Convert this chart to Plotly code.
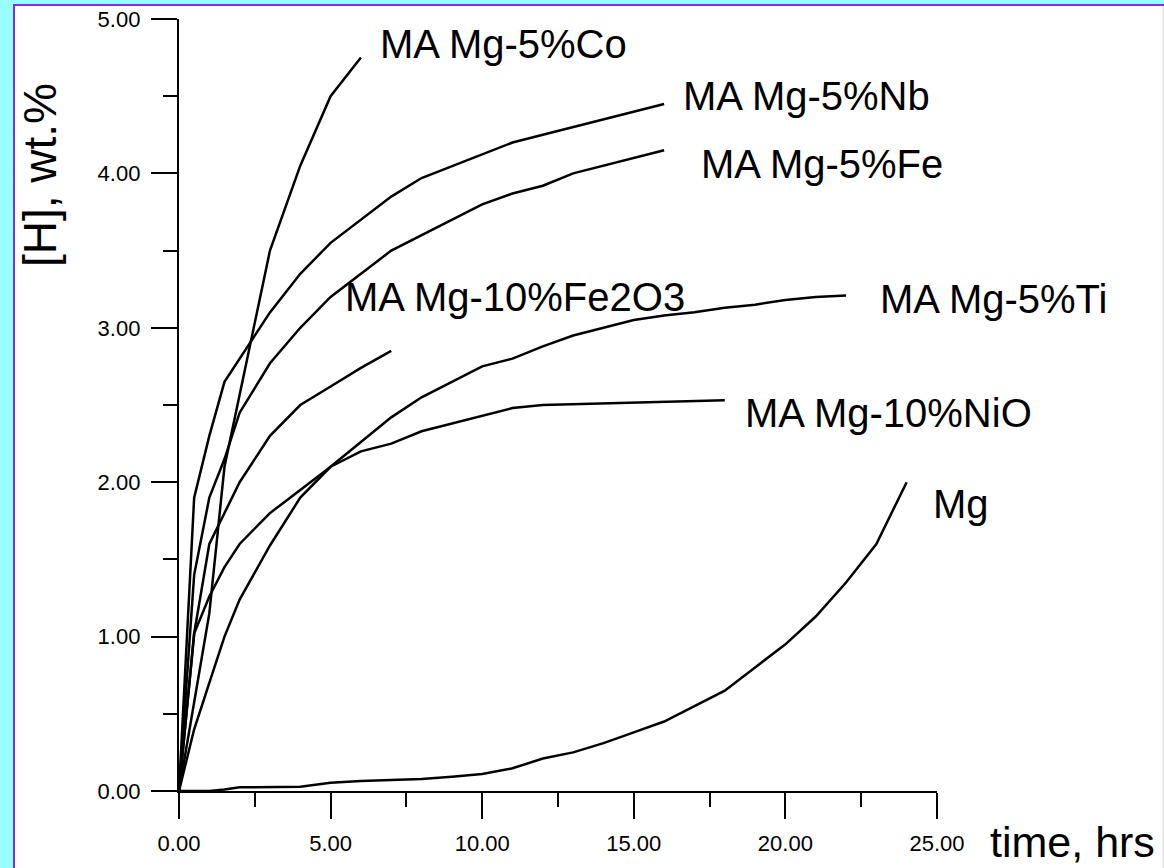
import plotly.graph_objects as go

# Hydrogen uptake [H] (wt.%) versus time (hours) for milled Mg alloys
t_co = [0, 1, 1.5, 3, 4, 5, 6]
h_co = [0, 1.15, 2.1, 3.5, 4.05, 4.5, 4.75]

t_nb = [0, 0.5, 1, 1.5, 3, 4, 5, 7, 8, 10, 11, 12, 14, 16]
h_nb = [0, 1.9, 2.3, 2.65, 3.1, 3.35, 3.55, 3.85, 3.97, 4.12, 4.2, 4.25, 4.35, 4.45]

t_fe = [0, 0.5, 1, 1.5, 2, 3, 4, 5, 7, 8, 9, 10, 11, 12, 13, 14, 15, 16]
h_fe = [0, 1.4, 1.9, 2.15, 2.45, 2.77, 3.0, 3.2, 3.5, 3.6, 3.7, 3.8, 3.87, 3.92, 4.0, 4.05, 4.1, 4.15]

t_fe2o3 = [0, 0.5, 1, 2, 3, 4, 5, 6, 7]
h_fe2o3 = [0, 1.02, 1.6, 2.0, 2.3, 2.5, 2.62, 2.74, 2.85]

t_ti = [0, 0.5, 1, 1.5, 2, 3, 4, 5, 6, 7, 8, 10, 11, 12, 13, 14, 15, 16, 17, 18, 19, 20, 21, 22]
h_ti = [0, 0.4, 0.7, 1.0, 1.24, 1.59, 1.9, 2.1, 2.26, 2.42, 2.55, 2.75, 2.8, 2.88, 2.95, 3.0, 3.05,
        3.08, 3.1, 3.13, 3.15, 3.18, 3.2, 3.21]

t_nio = [0, 0.5, 1, 1.5, 2, 3, 4, 5, 6, 7, 8, 9, 10, 11, 12, 18]
h_nio = [0, 1.02, 1.26, 1.45, 1.6, 1.8, 1.95, 2.1, 2.2, 2.25, 2.33, 2.38, 2.43, 2.48, 2.5, 2.53]

t_mg = [0, 1, 1.5, 2, 4, 5, 6, 8, 9, 10, 11, 12, 13, 14, 15, 16, 17, 18, 19, 20, 21, 22, 23, 24]
h_mg = [0, 0, 0.01, 0.024, 0.028, 0.054, 0.065, 0.078, 0.093, 0.11, 0.147, 0.21, 0.25, 0.31, 0.38,
        0.45, 0.55, 0.65, 0.8, 0.95, 1.13, 1.35, 1.6, 2.0]

series = [
    ("MA Mg-5%Co", t_co, h_co),
    ("MA Mg-5%Nb", t_nb, h_nb),
    ("MA Mg-5%Fe", t_fe, h_fe),
    ("MA Mg-10%Fe2O3", t_fe2o3, h_fe2o3),
    ("MA Mg-5%Ti", t_ti, h_ti),
    ("MA Mg-10%NiO", t_nio, h_nio),
    ("Mg", t_mg, h_mg),
]

# Curve labels: (text, x, y) in data units, left-anchored
label_text = ["MA Mg-5%Co", "MA Mg-5%Nb", "MA Mg-5%Fe", "MA Mg-10%Fe2O3",
              "MA Mg-5%Ti", "MA Mg-10%NiO", "Mg"]
label_x = [6.57, 16.56, 17.15, 5.41, 23.06, 18.60, 24.80]
label_y = [4.84, 4.50, 4.06, 3.20, 3.185, 2.45, 1.86]

FONT = "Arial, Liberation Sans, sans-serif"
W, H = 1164, 868
L, R, T, B = 179, 227, 19, 77

fig = go.Figure()
for name, tx, hy in series:
    fig.add_trace(go.Scatter(x=tx, y=hy, mode="lines", name=name,
                             line=dict(color="black", width=2.5), cliponaxis=False))

for txt, lx, ly in zip(label_text, label_x, label_y):
    fig.add_annotation(x=lx, y=ly, xref="x", yref="y", text=txt, showarrow=False,
                       xanchor="left", yanchor="middle",
                       font=dict(family=FONT, size=40, color="black"))

pw = W - L - R
ph = H - T - B
def px_to_paper_x(px):
    return (px - L) / pw
def px_to_paper_y(py):
    return (H - B - py) / ph

# Axis titles
fig.add_annotation(x=px_to_paper_x(988), y=px_to_paper_y(842), xref="paper", yref="paper",
                   text="time, hrs", showarrow=False, xanchor="left", yanchor="middle",
                   font=dict(family=FONT, size=43, color="black"))
fig.add_annotation(x=px_to_paper_x(40), y=px_to_paper_y(175), xref="paper", yref="paper",
                   text="[H], wt.%", showarrow=False, textangle=-90,
                   xanchor="center", yanchor="middle",
                   font=dict(family=FONT, size=46, color="black"))

# Page frame: cyan band on the left and top with a violet rule
fig.add_shape(type="rect", xref="paper", yref="paper",
              x0=px_to_paper_x(14), x1=px_to_paper_x(W + 5),
              y0=px_to_paper_y(H + 5), y1=px_to_paper_y(5),
              fillcolor="white", line=dict(color="#7F2BFF", width=2), layer="below")
fig.add_shape(type="line", xref="paper", yref="paper",
              x0=px_to_paper_x(1163), x1=px_to_paper_x(1163),
              y0=px_to_paper_y(6), y1=px_to_paper_y(H),
              line=dict(color="#D8D8D8", width=1), layer="below")

axis_common = dict(showline=True, linecolor="black", linewidth=2.4, showgrid=False, zeroline=False,
                   ticks="outside", tickcolor="black", tickwidth=2.4, ticklen=26,
                   automargin=False,
                   tickformat=".2f", tickfont=dict(family=FONT, size=22, color="black"))

fig.update_xaxes(range=[0, 25], dtick=5, tick0=0, ticklabelstandoff=5,
                 minor=dict(ticks="outside", dtick=2.5, ticklen=14, tickwidth=2.4, tickcolor="black"),
                 **axis_common)
fig.update_yaxes(range=[0, 5], dtick=1, tick0=0, ticklabelstandoff=6,
                 minor=dict(ticks="outside", dtick=0.5, ticklen=14, tickwidth=2.4, tickcolor="black"),
                 **axis_common)

fig.update_layout(width=W, height=H, autosize=False,
                  margin=dict(l=L, r=R, t=T, b=B, pad=0, autoexpand=False),
                  paper_bgcolor="#99FFFF", plot_bgcolor="white",
                  showlegend=False)

fig.write_html("out.html")
